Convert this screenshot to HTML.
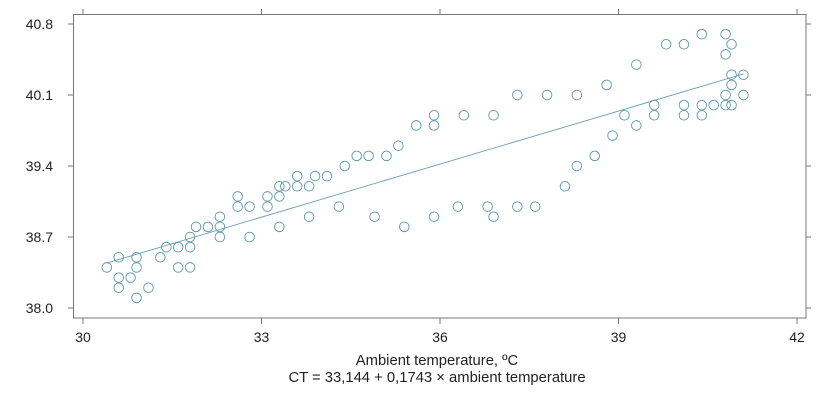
<!DOCTYPE html>
<html><head><meta charset="utf-8"><style>
html,body{margin:0;padding:0;background:#fff;width:820px;height:402px;overflow:hidden}
svg text{font-family:"Liberation Sans",sans-serif;fill:#222}
</style></head><body>
<svg id="chart" width="820" height="402" viewBox="0 0 820 402" xmlns="http://www.w3.org/2000/svg">
<rect x="73.5" y="14.5" width="732.5" height="303.5" fill="none" stroke="#777" stroke-width="1"/>
<g id="axes"></g>
<g id="marks"></g>
<text x="437" y="365" font-size="14.8" text-anchor="middle">Ambient temperature, ºC</text>
<text x="437" y="382" font-size="14.8" text-anchor="middle">CT = 33,144 + 0,1743 × ambient temperature</text>
</svg>
<script>
const xTicks=[30,33,36,39,42];
const yTicks=[38.0,38.7,39.4,40.1,40.8];
const yTickLabels=["38.0","38.7","39.4","40.1","40.8"];
const tempX=[30.4,30.6,30.6,30.6,30.8,30.9,30.9,30.9,31.1,31.3,31.4,31.6,31.6,31.8,31.8,31.8,31.9,32.1,32.3,32.3,32.3,32.6,32.6,32.8,32.8,33.1,33.1,33.3,33.3,33.3,33.4,33.6,33.6,33.8,33.8,33.9,34.1,34.3,34.4,34.6,34.8,34.9,35.1,35.3,35.4,35.6,35.9,35.9,35.9,36.3,36.4,36.8,36.9,36.9,37.3,37.3,37.6,37.8,38.1,38.3,38.3,38.6,38.8,38.9,39.1,39.3,39.3,39.6,39.6,39.8,40.1,40.1,40.1,40.4,40.4,40.4,40.6,40.8,40.8,40.8,40.8,40.9,40.9,40.9,40.9,41.1,41.1];
const coreTemp=[38.4,38.5,38.3,38.2,38.3,38.5,38.4,38.1,38.2,38.5,38.6,38.6,38.4,38.7,38.6,38.4,38.8,38.8,38.9,38.8,38.7,39.1,39.0,39.0,38.7,39.1,39.0,39.2,39.1,38.8,39.2,39.3,39.2,39.2,38.9,39.3,39.3,39.0,39.4,39.5,39.5,38.9,39.5,39.6,38.8,39.8,39.9,39.8,38.9,39.0,39.9,39.0,39.9,38.9,40.1,39.0,39.0,40.1,39.2,40.1,39.4,39.5,40.2,39.7,39.9,40.4,39.8,40.0,39.9,40.6,40.6,40.0,39.9,40.7,40.0,39.9,40.0,40.7,40.5,40.1,40.0,40.6,40.3,40.2,40.0,40.3,40.1];
const fitIntercept=33.144, fitSlope=0.1743, fitRange=[30.4,41.1];

const NS="http://www.w3.org/2000/svg";
const sx=v=>83+(v-30)*(797-83)/12;
const sy=v=>308-(v-38)*(308-24)/2.8;
const axes=document.getElementById('axes'), marks=document.getElementById('marks');
function mk(tag,attrs,parent){const e=document.createElementNS(NS,tag);for(const k in attrs)e.setAttribute(k,attrs[k]);parent.appendChild(e);return e;}
xTicks.forEach(t=>{
  const x=sx(t);
  const a=mk('line',{x1:x,x2:x,y1:318,y2:324,stroke:'#777'},axes);
  
  
  const b=mk('line',{x1:x,x2:x,y1:9,y2:14.5,stroke:'#777'},axes);
  
  
  const l=mk('text',{x:x,y:342,'font-size':'14','text-anchor':'middle'},axes);
  l.textContent=String(t);
  
  
});
yTicks.forEach((t,i)=>{
  const y=sy(t);
  const a=mk('line',{x1:68,x2:73.5,y1:y,y2:y,stroke:'#777'},axes);
  
  
  const b=mk('line',{x1:806,x2:811,y1:y,y2:y,stroke:'#777'},axes);
  
  
  const l=mk('text',{x:53,y:y+5,'font-size':'14','text-anchor':'end'},axes);
  l.textContent=yTickLabels[i];
  
  
});
tempX.forEach((v,i)=>{
  const c=mk('circle',{cx:sx(v),cy:sy(coreTemp[i]),r:4.8,fill:'none',stroke:'#5c97a8','stroke-width':0.9},marks);
  
  
});
const fl=mk('line',{x1:sx(fitRange[0]),y1:sy(fitIntercept+fitSlope*fitRange[0]),x2:sx(fitRange[1]),y2:sy(fitIntercept+fitSlope*fitRange[1]),stroke:'#6a9fae','stroke-width':0.9},marks);


</script>
</body></html>
